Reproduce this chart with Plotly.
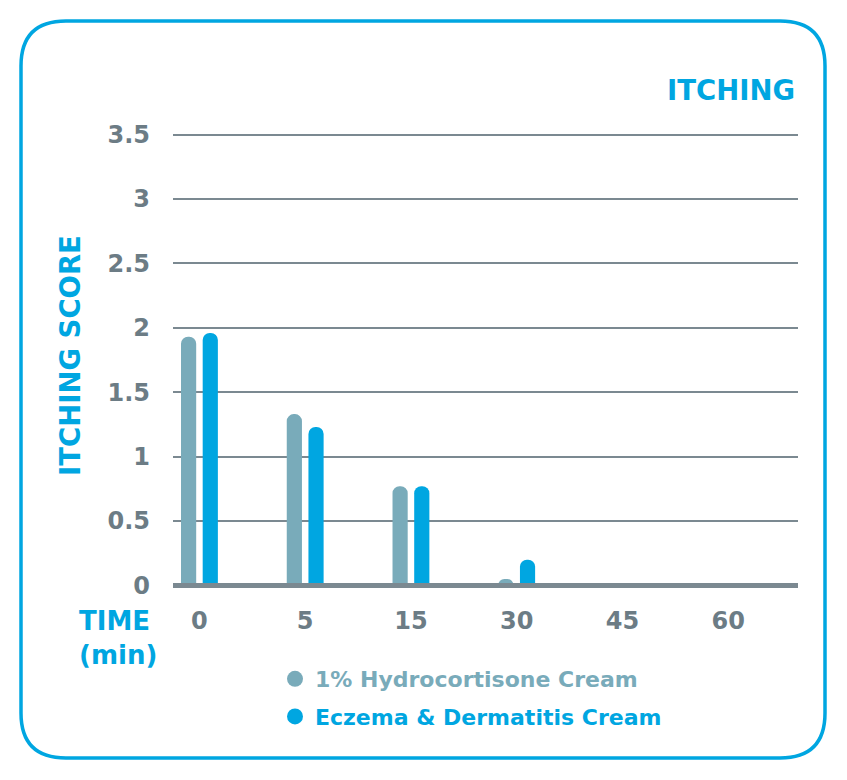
import plotly.graph_objects as go

# data
times = ["0", "5", "15", "30", "45", "60"]
hydrocortisone = [1.93, 1.33, 0.77, 0.05, 0, 0]
eczema = [1.96, 1.23, 0.77, 0.20, 0, 0]
y_ticks = [0, 0.5, 1, 1.5, 2, 2.5, 3, 3.5]
y_tick_labels = ["0", "0.5", "1", "1.5", "2", "2.5", "3", "3.5"]
series_names = ["1% Hydrocortisone Cream", "Eczema & Dermatitis Cream"]

GRAY_BAR = "#79abba"
BLUE = "#00a6e1"
TICK_GRAY = "#6c7c85"
GRID = "#7b8991"
FONT = "DejaVu Sans"

# page body has an 8px margin, so work in screen pixels and shift
OFF = 8
W, H = 847 - OFF, 780 - OFF
L, R, T, B = 173 - OFF, 49, 132 - OFF, 192
PW, PH = W - L - R, H - T - B


def px(x):
    return (x - OFF - L) / PW


def py(y):
    return ((H - B) - (y - OFF)) / PH


def rounded_rect(x0, y0, x1, y1, r):
    pts = [
        ("M", [(x0 + r, y0)]),
        ("L", [(x1 - r, y0)]),
        ("Q", [(x1, y0), (x1, y0 + r)]),
        ("L", [(x1, y1 - r)]),
        ("Q", [(x1, y1), (x1 - r, y1)]),
        ("L", [(x0 + r, y1)]),
        ("Q", [(x0, y1), (x0, y1 - r)]),
        ("L", [(x0, y0 + r)]),
        ("Q", [(x0, y0), (x0 + r, y0)]),
    ]
    out = []
    for cmd, coords in pts:
        out.append(cmd + " ".join(f"{px(a):.5f},{py(b):.5f}" for a, b in coords))
    return " ".join(out) + " Z"


fig = go.Figure()
fig.add_trace(go.Bar(x=times, y=hydrocortisone, marker_color=GRAY_BAR,
                     marker_line_width=0, showlegend=False, name=series_names[0]))
fig.add_trace(go.Bar(x=times, y=eczema, marker_color=BLUE,
                     marker_line_width=0, showlegend=False, name=series_names[1]))

# legend entries with round markers
for i, (name, col) in enumerate(zip(series_names, [GRAY_BAR, BLUE])):
    fig.add_trace(go.Scatter(
        x=[None], y=[None], mode="markers", legendgroup=f"g{i}",
        marker=dict(color=col, size=16, symbol="circle"),
        name=f"<span style='color:{col}'>{name}</span>",
    ))

fig.update_layout(
    width=W, height=H,
    margin=dict(l=L, r=R, t=T, b=B),
    paper_bgcolor="white", plot_bgcolor="white",
    barmode="group", bargap=0.59, bargroupgap=0.3, barcornerradius=8,
    font=dict(family=FONT, color=TICK_GRAY),
    legend=dict(
        x=px(275), y=py(658), xanchor="left", yanchor="top",
        font=dict(family=FONT, size=22, weight="bold"),
        itemsizing="trace", tracegroupgap=6, bgcolor="rgba(0,0,0,0)",
    ),
    shapes=[
        dict(type="path", xref="paper", yref="paper",
             path=rounded_rect(21, 21, 825, 758, 45),
             line=dict(color=BLUE, width=3.5), fillcolor="rgba(0,0,0,0)"),
        # thick baseline drawn over the bar feet
        dict(type="line", xref="paper", yref="y", x0=0, x1=1, y0=0, y1=0,
             line=dict(color=GRID, width=5), layer="above"),
    ],
    annotations=[
        dict(text="ITCHING", xref="paper", yref="paper", x=px(797), y=py(90),
             xanchor="right", yanchor="middle", showarrow=False,
             font=dict(family=FONT, size=27.5, color=BLUE, weight="bold")),
        dict(text="ITCHING SCORE", xref="paper", yref="paper", x=px(70), y=py(356),
             xanchor="center", yanchor="middle", showarrow=False, textangle=-90,
             font=dict(family=FONT, size=27.5, color=BLUE, weight="bold")),
        dict(text="TIME<br>(min)", xref="paper", yref="paper", x=px(77), y=py(604),
             xanchor="left", yanchor="top", showarrow=False, align="left",
             font=dict(family=FONT, size=26, color=BLUE, weight="bold")),
    ],
)

fig.update_xaxes(
    type="category", range=[-0.25, 5.66], showgrid=False, showline=False,
    ticks="", ticklabelstandoff=16,
    tickfont=dict(family=FONT, size=24, color=TICK_GRAY, weight="bold"),
)
fig.update_yaxes(
    range=[-0.02, 3.52], tickvals=y_ticks, ticktext=y_tick_labels,
    showgrid=True, gridcolor=GRID, gridwidth=2, zeroline=False,
    showline=False, ticks="", ticklabelstandoff=22,
    tickfont=dict(family=FONT, size=24, color=TICK_GRAY, weight="bold"),
)

fig.write_html("out.html")
